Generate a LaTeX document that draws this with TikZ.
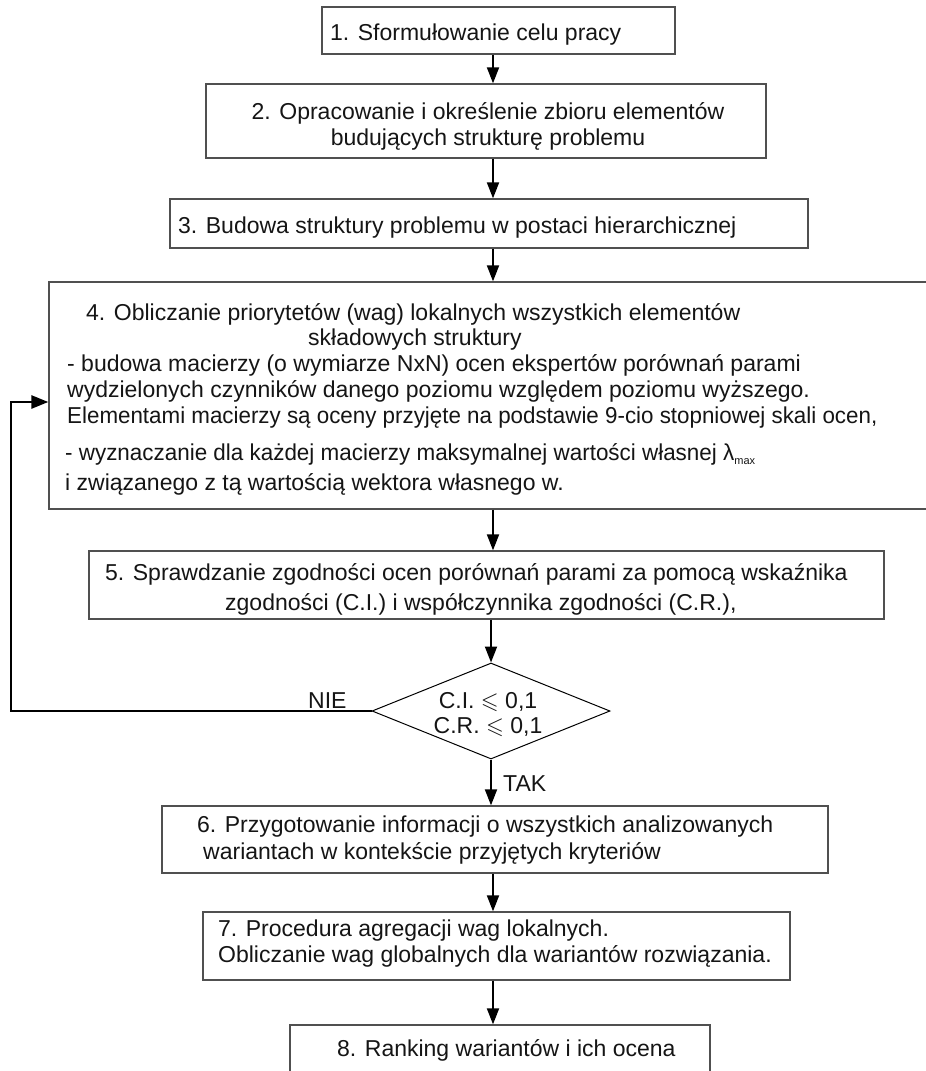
\documentclass[tikz,border=0pt]{standalone}
\usepackage{fontspec}
\usepackage{amssymb}
\setmainfont{Liberation Sans}
\usetikzlibrary{arrows.meta,shapes.geometric}
\definecolor{boxgray}{HTML}{505050}
\definecolor{inkc}{HTML}{151515}
\newcommand\mainfs{\fontsize{23}{26}\selectfont}
\begin{document}
\begin{tikzpicture}[x=1pt,y=-1pt,
  box/.style={draw=boxgray, line width=1.3pt, inner sep=0pt},
  txt/.style={inner sep=0pt, anchor=base west, font=\mainfs, text=inkc},
  ctxt/.style={inner sep=0pt, anchor=base, font=\mainfs, text=inkc},
  arr/.style={-{Triangle[length=16pt,width=12pt]}, line width=1.9pt, draw=black},
  looparr/.style={-{Triangle[length=17pt,width=13pt]}, line width=2.6pt, draw=black},
  decision/.style={diamond, draw=black, line width=1pt, inner sep=0pt}]
\fill[white] (0,0) rectangle (926,1071);
\useasboundingbox (0,0) rectangle (926,1071);
\coordinate (ax) at (493,0);
% boxes
\node[box, minimum width=353pt, minimum height=47pt] (b1) at (498.5,30.5) {};
\node[box, minimum width=560pt, minimum height=74pt] (b2) at (486,121) {};
\node[box, minimum width=638pt, minimum height=49pt] (b3) at (489,223.5) {};
\node[box, minimum width=891pt, minimum height=227pt] (b4) at (494.5,395.5) {};
\node[box, minimum width=795pt, minimum height=68pt] (b5) at (486.5,585) {};
\node[decision, minimum width=238pt, minimum height=96pt] (d) at (491,711) {};
\node[box, minimum width=666pt, minimum height=67pt] (b6) at (495,839.5) {};
\node[box, minimum width=587pt, minimum height=68pt] (b7) at (496.5,946) {};
\node[box, minimum width=420pt, minimum height=70pt] (b8) at (500,1060) {};
% texts
\node[txt] (t1) at (330,40) {1. Sformułowanie celu pracy};
\node[ctxt] (t2a) at (488,119) {2. Opracowanie i określenie zbioru elementów};
\node[ctxt] (t2b) at (488,145) {budujących strukturę problemu};
\node[txt] (t3) at (178,233) {3. Budowa struktury problemu w postaci hierarchicznej};
\node[txt] (t4a) at (86,320) {4. Obliczanie priorytetów (wag) lokalnych wszystkich elementów};
\node[txt] (t4b) at (308,345) {składowych struktury};
\node[txt] (t4c) at (67,371) {- budowa macierzy (o wymiarze NxN) ocen ekspertów porównań parami};
\node[txt] (t4d) at (67,397) {wydzielonych czynników danego poziomu względem poziomu wyższego.};
\node[txt] (t4e) at (67,423) {\scalebox{0.972}[1]{Elementami macierzy są oceny przyjęte na podstawie 9-cio stopniowej skali ocen,}};
\node[txt] (t4f) at (65,460) {\scalebox{0.975}[1]{- wyznaczanie dla każdej macierzy maksymalnej wartości własnej λ}\raisebox{-4pt}{\fontsize{11}{11}\selectfont max}};
\node[txt] (t4g) at (65,490) {i związanego z tą wartością wektora własnego w.};
\node[txt] (t5a) at (105,580) {5. Sprawdzanie zgodności ocen porównań parami za pomocą wskaźnika};
\node[txt] (t5b) at (225,610) {zgodności (C.I.) i współczynnika zgodności (C.R.),};
\node[ctxt] (td1) at (488,708) {C.I. $\leqslant$ 0,1};
\node[ctxt] (td2) at (488,733) {C.R. $\leqslant$ 0,1};
\node[txt] (tnie) at (308,708) {NIE};
\node[txt] (ttak) at (503,791) {TAK};
\node[txt] (t6a) at (197,832) {6. Przygotowanie informacji o wszystkich analizowanych};
\node[txt] (t6b) at (203,859) {wariantach w kontekście przyjętych kryteriów};
\node[txt] (t7a) at (218,936) {7. Procedura agregacji wag lokalnych.};
\node[txt] (t7b) at (218,962) {Obliczanie wag globalnych dla wariantów rozwiązania.};
\node[txt] (t8) at (337,1056) {8. Ranking wariantów i ich ocena};
% connectors
\draw[arr] (b1.south -| ax) -- (b2.north -| ax);
\draw[arr] (b2.south -| ax) -- (b3.north -| ax);
\draw[arr] (b3.south -| ax) -- (b4.north -| ax);
\draw[arr] (b4.south -| ax) -- (b5.north -| ax);
\draw[arr] (b5.south -| d.north) -- (d.north);
\draw[arr] (d.south) -- (b6.north -| d.south);
\draw[arr] (b6.south -| ax) -- (b7.north -| ax);
\draw[arr] (b7.south -| ax) -- (b8.north -| ax);
\coordinate (lp) at (11,402);
\draw[looparr] (d.west) -| (lp) -- (lp -| b4.west);
\end{tikzpicture}
\end{document}
